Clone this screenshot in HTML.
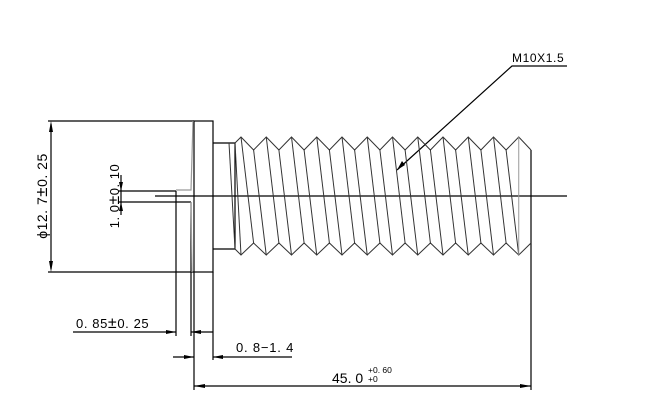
<!DOCTYPE html>
<html><head><meta charset="utf-8"><style>
html,body{margin:0;padding:0;background:#fff;width:657px;height:419px;overflow:hidden}
svg{display:block}
text{font-family:"Liberation Sans",sans-serif;fill:#000}
</style></head><body>
<svg width="657" height="419" viewBox="0 0 657 419" xmlns="http://www.w3.org/2000/svg">
<g stroke="#000" stroke-width="1.2" fill="none">
<rect x="194" y="121" width="19" height="151"/>
<line x1="48" y1="121" x2="194" y2="121"/>
<line x1="48" y1="272" x2="194" y2="272"/>
<line x1="51" y1="124" x2="51" y2="269"/>
<polyline points="213,143 235,143 235,249 213,249"/>
<line x1="155" y1="196" x2="567" y2="196"/>
<line x1="118" y1="191" x2="176" y2="191"/>
<line x1="118" y1="202" x2="191" y2="202"/>
<line x1="121" y1="175" x2="121" y2="215"/>
<line x1="176" y1="191" x2="176" y2="336"/>
<line x1="191" y1="202" x2="191" y2="336"/>
<line x1="194" y1="272" x2="194" y2="390"/>
<line x1="213" y1="272" x2="213" y2="360"/>
<line x1="531" y1="243" x2="531" y2="390"/>
<line x1="531" y1="150" x2="531" y2="243"/>
<line x1="73" y1="332" x2="176" y2="332"/>
<line x1="191" y1="332" x2="213" y2="332"/>
<line x1="173" y1="357" x2="194" y2="357"/>
<line x1="213" y1="357" x2="292" y2="357"/>
<line x1="194" y1="386" x2="531" y2="386"/>
<polyline points="397,170 512,66 567,66"/>
</g>
<g stroke="#999" stroke-width="1.2" fill="none">
<polyline points="176,190 191,190 193,121"/>
<line x1="191" y1="202" x2="192" y2="272"/>
</g>
<g stroke="#333" stroke-width="1" fill="none">
<polyline points="235,143 241,137 253.6,150 266.25,137 278.9,150 291.5,137 304.1,150 316.75,137 329.4,150 342,137 354.6,150 367.25,137 379.9,150 392.5,137 405.1,150 417.75,137 430.4,150 443,137 455.6,150 468.25,137 480.9,150 493.5,137 506.1,150 518.75,137 531,150"/>
<polyline points="235,249 241,255 253.6,243 266.25,255 278.9,243 291.5,255 304.1,243 316.75,255 329.4,243 342,255 354.6,243 367.25,255 379.9,243 392.5,255 405.1,243 417.75,255 430.4,243 443,255 455.6,243 468.25,255 480.9,243 493.5,255 506.1,243 518.75,255 531,243"/>
<line x1="229" y1="143" x2="235" y2="249"/>
<line x1="235" y1="143" x2="241" y2="255"/>
<line x1="241" y1="137" x2="253.6" y2="243"/><line x1="253.6" y1="150" x2="266.25" y2="255"/>
<line x1="266.25" y1="137" x2="278.9" y2="243"/><line x1="278.9" y1="150" x2="291.5" y2="255"/>
<line x1="291.5" y1="137" x2="304.1" y2="243"/><line x1="304.1" y1="150" x2="316.75" y2="255"/>
<line x1="316.75" y1="137" x2="329.4" y2="243"/><line x1="329.4" y1="150" x2="342" y2="255"/>
<line x1="342" y1="137" x2="354.6" y2="243"/><line x1="354.6" y1="150" x2="367.25" y2="255"/>
<line x1="367.25" y1="137" x2="379.9" y2="243"/><line x1="379.9" y1="150" x2="392.5" y2="255"/>
<line x1="392.5" y1="137" x2="405.1" y2="243"/><line x1="405.1" y1="150" x2="417.75" y2="255"/>
<line x1="417.75" y1="137" x2="430.4" y2="243"/><line x1="430.4" y1="150" x2="443" y2="255"/>
<line x1="443" y1="137" x2="455.6" y2="243"/><line x1="455.6" y1="150" x2="468.25" y2="255"/>
<line x1="468.25" y1="137" x2="480.9" y2="243"/><line x1="480.9" y1="150" x2="493.5" y2="255"/>
<line x1="493.5" y1="137" x2="506.1" y2="243"/><line x1="506.1" y1="150" x2="518.75" y2="255"/>
<line x1="518.75" y1="137" x2="518.75" y2="255" stroke="#999"/>
</g>
<g fill="#000">
<polygon points="51,121 49,132 53,132"/>
<polygon points="51,272 49,261 53,261"/>
<polygon points="121,191 119,182 123,182"/>
<polygon points="121,202 119,211 123,211"/>
<polygon points="176,332 166,330 166,334"/>
<polygon points="191,332 201,330 201,334"/>
<polygon points="194,357 184,355 184,359"/>
<polygon points="213,357 223,355 223,359"/>
<polygon points="194,386 205,384 205,388"/>
<polygon points="531,386 520,384 520,388"/>
<polygon points="397,170 402,161 405,165"/>
</g>
<text x="512" y="62" font-size="12" letter-spacing="0.6">M10X1.5</text>
<text x="76" y="328" font-size="13" letter-spacing="0.6">0. 85<tspan font-size="16">±</tspan>0. 25</text>
<text x="236" y="352" font-size="13" letter-spacing="0.8">0. 8−1. 4</text>
<text x="332" y="383" font-size="14">45. 0</text>
<text x="368" y="373" font-size="8.5">+0. 60</text>
<text x="368" y="382" font-size="8.5">+0</text>
<text transform="translate(47,196) rotate(-90)" text-anchor="middle" font-size="14" letter-spacing="0.5">ϕ12. 7<tspan font-size="17">±</tspan>0. 25</text>
<text transform="translate(119,196) rotate(-90)" text-anchor="middle" font-size="13" letter-spacing="0.5">1. 0<tspan font-size="16">±</tspan>0. 10</text>
</svg>
</body></html>
